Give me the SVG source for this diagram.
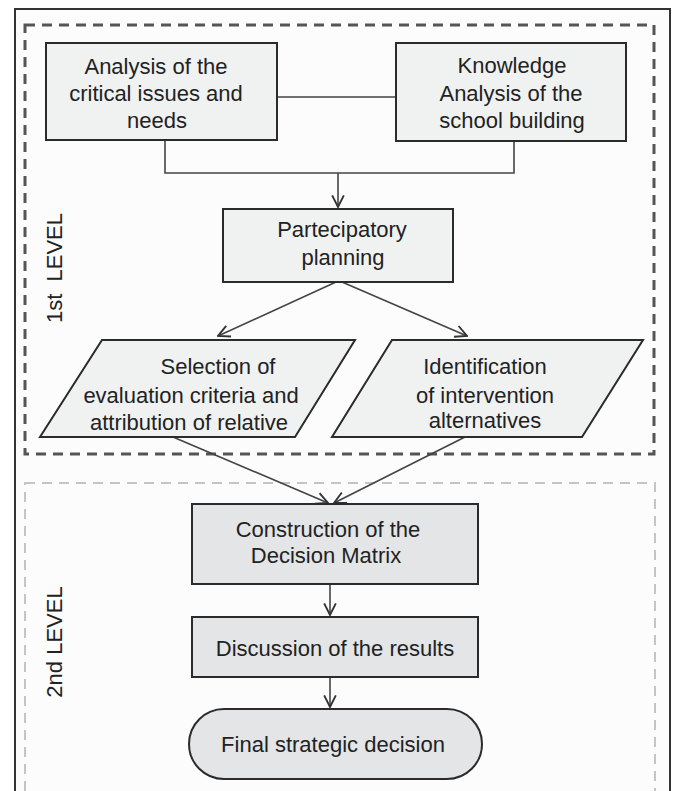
<svg xmlns="http://www.w3.org/2000/svg" width="675" height="791" viewBox="0 0 675 791">
<style>
  .box { stroke: #2b2b2b; stroke-width: 2; }
  .l1 { fill: #f0f2f2; }
  .l2 { fill: #e3e5e7; }
  .t { font-family: "Liberation Sans", Arial, sans-serif; font-size: 22px; fill: #222; text-anchor: middle; }
  .conn { fill: none; stroke: #444; stroke-width: 1.6; }
</style>
<defs>
  <marker id="arr" markerUnits="userSpaceOnUse" markerWidth="14" markerHeight="14" viewBox="0 0 12 12" refX="11" refY="6" orient="auto">
    <path d="M1,1 L11,6 L1,11" fill="none" stroke="#333" stroke-width="1.6"/>
  </marker>
</defs>
<rect x="0" y="0" width="675" height="791" fill="#ffffff"/>
<rect x="15" y="9" width="655" height="800" fill="#fcfcfc" stroke="#333" stroke-width="2"/>
<g id="level1">
  <rect x="25" y="25" width="629" height="429" fill="none" stroke="#555" stroke-width="3" stroke-dasharray="10 7"/>
  <text class="t" transform="translate(62,268) rotate(-90)">1st <tspan dx="6">LEVEL</tspan></text>
</g>
<g id="level2">
  <rect x="25" y="483" width="630" height="340" fill="none" stroke="#c4c4c4" stroke-width="2" stroke-dasharray="10 7"/>
  <text class="t" transform="translate(62,642) rotate(-90)">2nd LEVEL</text>
</g>
<g id="connectors">
  <path class="conn" d="M277,97 H396"/>
  <path class="conn" d="M165,140 V173 H514 V140"/>
  <path class="conn" d="M338,173 V207" marker-end="url(#arr)"/>
  <path class="conn" d="M336,282 L218,336" marker-end="url(#arr)"/>
  <path class="conn" d="M342,282 L467,336" marker-end="url(#arr)"/>
  <path class="conn" d="M173,437 L328,503" marker-end="url(#arr)"/>
  <path class="conn" d="M465,437 L334,503" marker-end="url(#arr)"/>
  <path class="conn" d="M330,584 V615" marker-end="url(#arr)"/>
  <path class="conn" d="M330,677 V707" marker-end="url(#arr)"/>
</g>
<g id="n-critical">
  <rect class="box l1" x="46" y="43" width="231" height="97"/>
  <text class="t" x="156" y="74">Analysis of the</text>
  <text class="t" x="156" y="101">critical issues and</text>
  <text class="t" x="157" y="128">needs</text>
</g>
<g id="n-knowledge">
  <rect class="box l1" x="396" y="43" width="230" height="98"/>
  <text class="t" x="512" y="73">Knowledge</text>
  <text class="t" x="511" y="101">Analysis of the</text>
  <text class="t" x="512" y="128">school building</text>
</g>
<g id="n-planning">
  <rect class="box l1" x="223" y="209" width="230" height="73"/>
  <text class="t" x="342" y="237">Partecipatory</text>
  <text class="t" x="343" y="265">planning</text>
</g>
<g id="n-criteria">
  <polygon class="box l1" points="102,340 355,340 295,437 40,437"/>
  <text class="t" x="218" y="374">Selection of</text>
  <text class="t" x="191" y="403">evaluation criteria and</text>
  <text class="t" x="189" y="430">attribution of relative</text>
</g>
<g id="n-alternatives">
  <polygon class="box l1" points="392,340 643,340 582,437 332,437"/>
  <text class="t" x="485" y="374">Identification</text>
  <text class="t" x="485" y="403">of intervention</text>
  <text class="t" x="485" y="428">alternatives</text>
</g>
<g id="n-matrix">
  <rect class="box l2" x="192" y="504" width="286" height="80"/>
  <text class="t" x="328" y="537">Construction of the</text>
  <text class="t" x="326" y="563">Decision Matrix</text>
</g>
<g id="n-discussion">
  <rect class="box l2" x="192" y="617" width="286" height="60"/>
  <text class="t" x="335" y="656">Discussion of the results</text>
</g>
<g id="n-final">
  <rect class="box l2" x="189" y="709" width="293" height="70" rx="35" ry="35"/>
  <text class="t" x="333" y="752">Final strategic decision</text>
</g>
</svg>
